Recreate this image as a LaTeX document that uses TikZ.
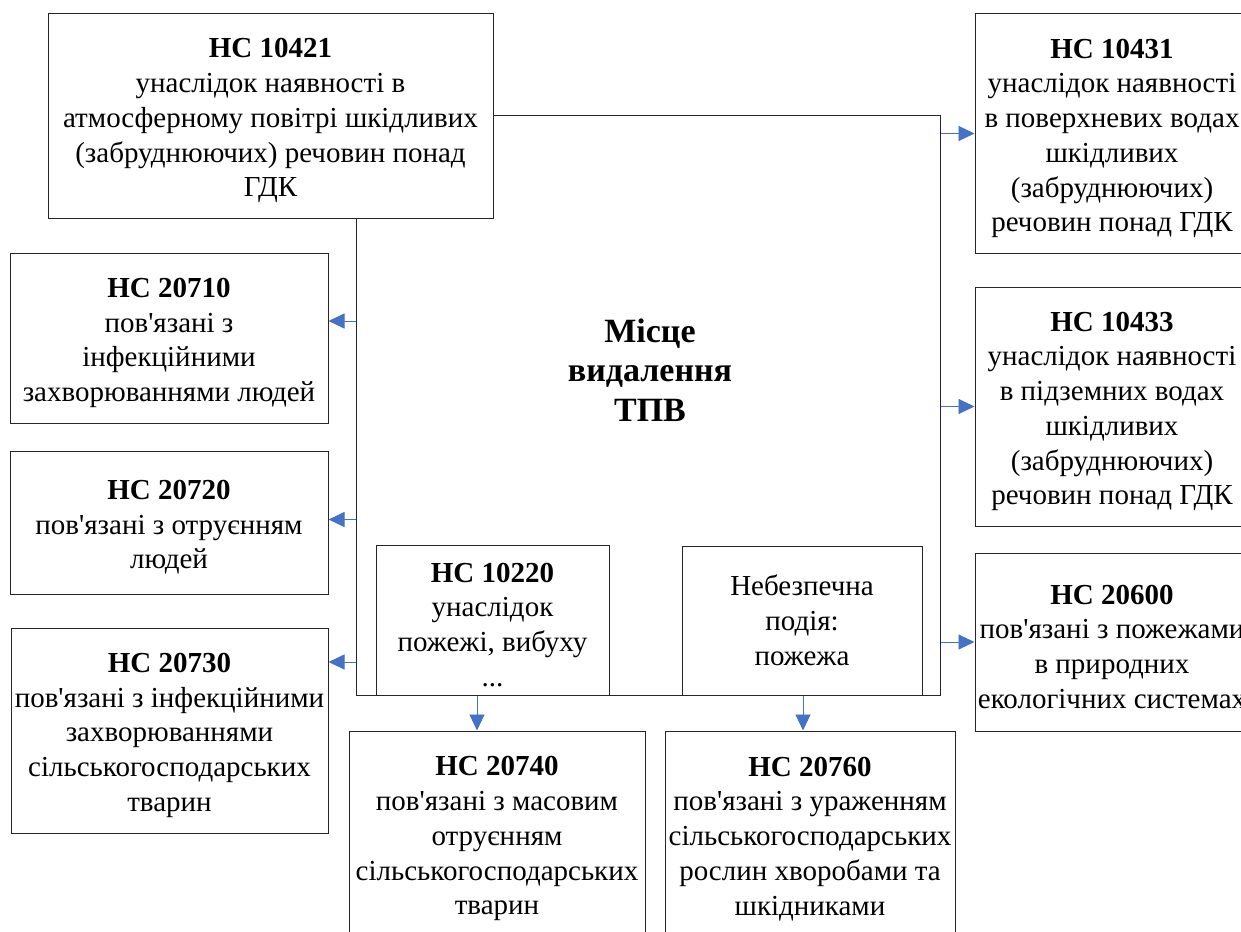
\documentclass[tikz,border=0pt]{standalone}
\usepackage{fontspec}
\setmainfont{Liberation Serif}
\usetikzlibrary{arrows.meta}
\definecolor{arrblue}{HTML}{4472C4}
\newcommand{\apos}{\textquotesingle}
\newcommand{\hd}[1]{\rule{0pt}{29pt}\textbf{#1}}
\tikzset{
	ncbox/.style={draw=black!85, line width=1pt, fill=white, align=center, inner sep=0pt,
		font=\fontsize{29}{34.75}\selectfont},
	arr/.style={draw=arrblue, line width=0.9pt, -{Triangle[length=16pt,width=15pt]}}
}

\begin{document}
\begin{tikzpicture}[x=1pt, y=-1pt]
	\useasboundingbox (0, 0) rectangle (1241, 931);
	\clip (0, 0) rectangle (1241, 931);
		% site of solid waste disposal
		\node[draw=black!85, line width=1pt, minimum width=584pt, minimum height=579pt, inner sep=0pt] (site) at (648, 405.5) {};
		\node[align=center, font=\bfseries\fontsize{34}{39.5}\selectfont] (sitelabel) at (650, 370) {Місце\\видалення\\ТПВ};
		\node[ncbox, minimum width=445pt, minimum height=204pt] (a) at (270.5, 116) {\hd{НС 10421}\\унаслідок наявності в\\атмосферному повітрі шкідливих\\(забруднюючих) речовин понад\\ГДК};
		\node[ncbox, minimum width=233pt, minimum height=150pt] (c1) at (492.5, 620) {\hd{НС 10220}\\унаслідок\\пожежі, вибуху\\...};
		\node[ncbox, minimum width=240pt, minimum height=149pt] (c2) at (802, 620.5) {Небезпечна\\подія:\\пожежа};
		% right
		\node[ncbox, minimum width=274pt, minimum height=239pt] (b1) at (1112, 133.5) {\hd{НС 10431}\\унаслідок наявності\\в поверхневих водах\\шкідливих\\(забруднюючих)\\речовин понад ГДК};
		\node[ncbox, minimum width=274pt, minimum height=239pt] (b2) at (1112, 406.5) {\hd{НС 10433}\\унаслідок наявності\\в підземних водах\\шкідливих\\(забруднюючих)\\речовин понад ГДК};
		\node[ncbox, minimum width=274pt, minimum height=178pt] (b3) at (1112, 642) {\hd{НС 20600}\\пов\apos язані з пожежами\\в природних\\екологічних системах};
		% left
		\node[ncbox, minimum width=318pt, minimum height=170pt] (l1) at (169, 338) {\hd{НС 20710}\\пов\apos язані з\\інфекційними\\захворюваннями людей};
		\node[ncbox, minimum width=318pt, minimum height=143pt] (l2) at (169, 522.5) {\hd{НС 20720}\\пов\apos язані з отруєнням\\людей};
		\node[ncbox, minimum width=317pt, minimum height=205pt] (l3) at (169.5, 730.5) {\hd{НС 20730}\\пов\apos язані з інфекційними\\захворюваннями\\сільськогосподарських\\тварин};
		% bottom
		\node[ncbox, minimum width=296pt, minimum height=206pt] (d1) at (497, 834) {\hd{НС 20740}\\пов\apos язані з масовим\\отруєнням\\сільськогосподарських\\тварин};
		\node[ncbox, minimum width=290pt, minimum height=206pt] (d2) at (810, 834) {\hd{НС 20760}\\пов\apos язані з ураженням\\сільськогосподарських\\рослин хворобами та\\шкідниками};
		% arrows
		\draw[arr] (site.east |- b1.west) -- (b1.west);
		\draw[arr] (site.east |- b2.west) -- (b2.west);
		\draw[arr] (site.east |- b3.west) -- (b3.west);
		\draw[arr] ([yshift=17pt]site.west |- l1.east) -- ([yshift=17pt]l1.east);
		\draw[arr] ([yshift=3pt]site.west |- l2.east) -- ([yshift=3pt]l2.east);
		\draw[arr] ([yshift=68.5pt]site.west |- l3.east) -- ([yshift=68.5pt]l3.east);
		\draw[arr] ([xshift=-20pt]site.south -| d1.north) -- ([xshift=-20pt]d1.north);
		\draw[arr] ([xshift=-7pt]site.south -| d2.north) -- ([xshift=-7pt]d2.north);
	\end{tikzpicture}
\end{document}
